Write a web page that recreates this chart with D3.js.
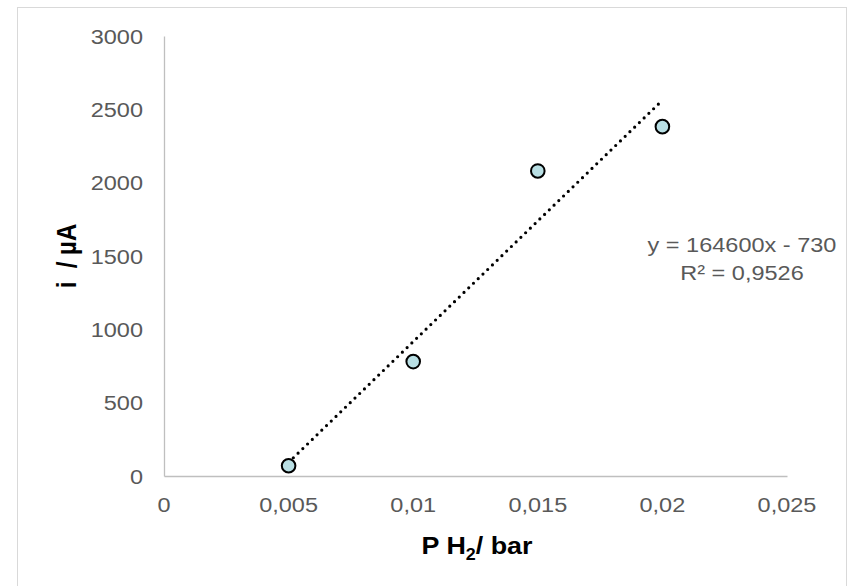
<!DOCTYPE html>
<html>
<head>
<meta charset="utf-8">
<script src="https://cdn.jsdelivr.net/npm/d3@7"></script>
<style>
  html, body { margin: 0; padding: 0; background: #fff; }
  svg { display: block; font-family: 'Liberation Sans', Arial, sans-serif; }
</style>
</head>
<body>
<div id="container"></div>
<script>
// measured points: hydrogen partial pressure (bar) vs current (µA)
const pressure = [0.005, 0.01, 0.015, 0.02];
const current = [70, 780, 2080, 2382];

const xTicks = [0, 0.005, 0.01, 0.015, 0.02, 0.025];
const yTicks = [0, 500, 1000, 1500, 2000, 2500, 3000];

// trendline as printed on the chart
const trendSlope = 164600;
const trendIntercept = -730;
const trendLabel = ['y = 164600x - 730', 'R² = 0,9526'];

const width = 851, height = 586;
const margin = { left: 164, right: 64, top: 36, bottom: 110 };
const stretch = 1.12; // the original text is a bit wider than plain Arial

const svg = d3.select('#container')
    .append('svg')
    .attr('width', width)
    .attr('height', height);

// chart frame
svg.append('rect')
    .attr('x', 17.5)
    .attr('y', 7.5)
    .attr('width', 829)
    .attr('height', 600)
    .attr('fill', '#fff')
    .attr('stroke', '#d9d9d9')
    .attr('stroke-width', 1);

const x = d3.scaleLinear()
    .domain([0, 0.025])
    .range([margin.left, width - margin.right]);

const y = d3.scaleLinear()
    .domain([0, 3000])
    .range([height - margin.bottom, margin.top]);

const fmt = (v) => String(v).replace('.', ',');

// axes (labels drawn separately so they can be stretched)
const xAxis = svg.append('g')
    .attr('transform', `translate(0,${y(0)})`)
    .call(d3.axisBottom(x).tickValues(xTicks).tickSize(0).tickFormat(''));

const yAxis = svg.append('g')
    .attr('transform', `translate(${x(0)},0)`)
    .call(d3.axisLeft(y).tickValues(yTicks).tickSize(0).tickFormat(''));

[xAxis, yAxis].forEach((ax) => {
    ax.select('.domain').attr('stroke', '#bfbfbf').attr('stroke-width', 1.3);
});

svg.append('g')
    .selectAll('text')
    .data(xTicks)
    .join('text')
    .attr('transform', (d) => `translate(${x(d)},${y(0) + 36}) scale(${stretch},1)`)
    .attr('text-anchor', 'middle')
    .attr('font-size', '21px')
    .attr('fill', '#595959')
    .text(fmt);

svg.append('g')
    .selectAll('text')
    .data(yTicks)
    .join('text')
    .attr('transform', (d) => `translate(${x(0) - 21},${y(d) + 7.5}) scale(${stretch},1)`)
    .attr('text-anchor', 'end')
    .attr('font-size', '21px')
    .attr('fill', '#595959')
    .text(fmt);

// trendline over the data range
const x0 = d3.min(pressure), x1 = d3.max(pressure);
svg.append('line')
    .attr('x1', x(x0))
    .attr('y1', y(trendSlope * x0 + trendIntercept))
    .attr('x2', x(x1))
    .attr('y2', y(trendSlope * x1 + trendIntercept))
    .attr('stroke', '#000')
    .attr('stroke-width', 3.2)
    .attr('stroke-linecap', 'round')
    .attr('stroke-dasharray', '0 6.6');

// markers
svg.append('g')
    .selectAll('circle')
    .data(pressure.map((p, i) => ({ p, c: current[i] })))
    .join('circle')
    .attr('cx', (d) => x(d.p))
    .attr('cy', (d) => y(d.c))
    .attr('r', 6.8)
    .attr('fill', '#b9dfe4')
    .attr('stroke', '#000')
    .attr('stroke-width', 2);

// equation label
svg.append('g')
    .selectAll('text')
    .data(trendLabel)
    .join('text')
    .attr('transform', (d, i) => `translate(742,${252 + i * 28}) scale(${stretch},1)`)
    .attr('text-anchor', 'middle')
    .attr('font-size', '21px')
    .attr('fill', '#595959')
    .text((d) => d);

// axis titles
const xTitle = svg.append('text')
    .attr('transform', `translate(477,554) scale(${stretch},1)`)
    .attr('text-anchor', 'middle')
    .attr('font-size', '24px')
    .attr('font-weight', 'bold')
    .attr('fill', '#000');
xTitle.append('tspan').text('P H');
xTitle.append('tspan').attr('font-size', '16px').attr('dy', 6).text('2');
xTitle.append('tspan').attr('dy', -6).text('/ bar');

svg.append('text')
    .attr('transform', 'translate(76,256) rotate(-90) scale(1,1.12)')
    .attr('text-anchor', 'middle')
    .attr('font-size', '24px')
    .attr('font-weight', 'bold')
    .attr('fill', '#000')
    .style('white-space', 'pre')
    .text('i  / µA');
</script>
</body>
</html>
